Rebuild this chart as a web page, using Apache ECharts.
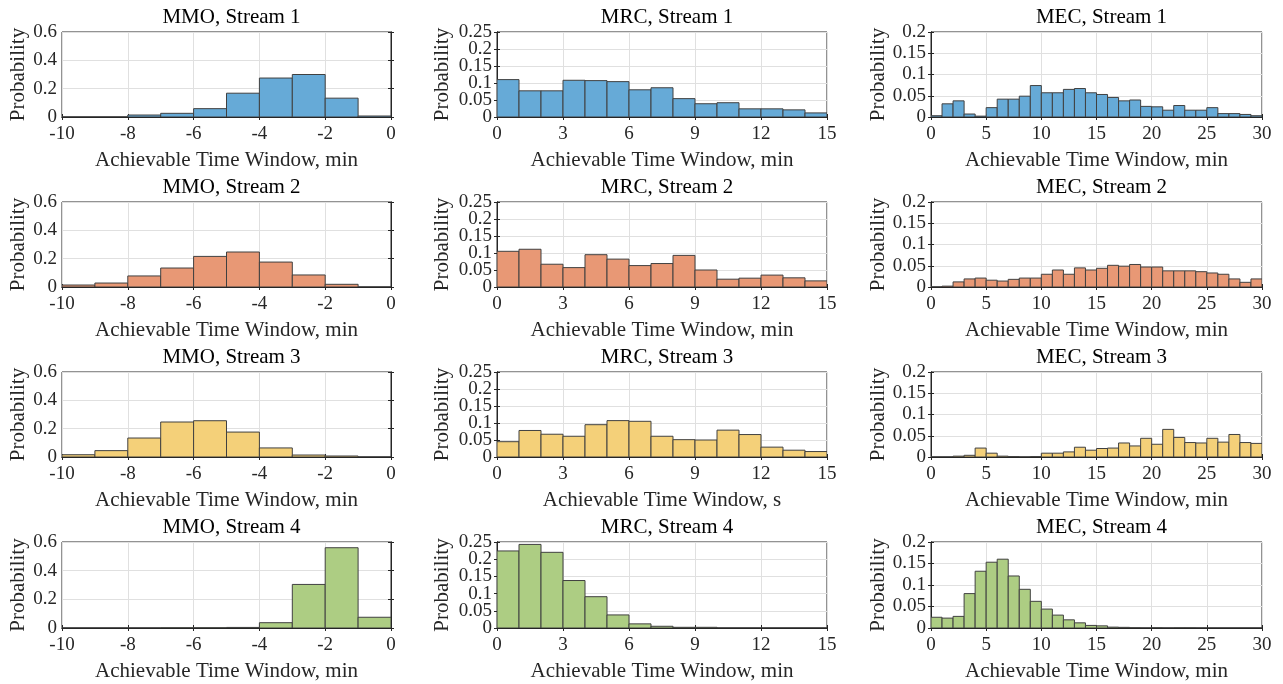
<!DOCTYPE html>
<html><head><meta charset="utf-8">
<script src="https://cdn.jsdelivr.net/npm/echarts@6/dist/echarts.min.js"></script>
<style>html,body{margin:0;padding:0;background:#fff}#c{width:1283px;height:684px}</style>
</head><body><div id="c"></div>
<script>
// ---- categories / labels ----
const methods = ['MMO', 'MRC', 'MEC'];
const streams = ['Stream 1', 'Stream 2', 'Stream 3', 'Stream 4'];
const xNames = [
  ['Achievable Time Window, min', 'Achievable Time Window, min', 'Achievable Time Window, min'],
  ['Achievable Time Window, min', 'Achievable Time Window, min', 'Achievable Time Window, min'],
  ['Achievable Time Window, min', 'Achievable Time Window, s', 'Achievable Time Window, min'],
  ['Achievable Time Window, min', 'Achievable Time Window, min', 'Achievable Time Window, min']
];
const yName = 'Probability';

// ---- tick labels ----
const mmoXTicks = [-10, -8, -6, -4, -2, 0];
const mrcXTicks = [0, 3, 6, 9, 12, 15];
const mecXTicks = [0, 5, 10, 15, 20, 25, 30];
const mmoYTicks = [0, 0.2, 0.4, 0.6];
const mrcYTicks = [0, 0.05, 0.1, 0.15, 0.2, 0.25];
const mecYTicks = [0, 0.05, 0.1, 0.15, 0.2];

// ---- bin left edges (bin width 1) ----
const mmoBinStarts = [-10, -9, -8, -7, -6, -5, -4, -3, -2, -1];
const mrcBinStarts = [0, 1, 2, 3, 4, 5, 6, 7, 8, 9, 10, 11, 12, 13, 14];
const mecBinStarts = [0, 1, 2, 3, 4, 5, 6, 7, 8, 9, 10, 11, 12, 13, 14, 15, 16, 17, 18, 19, 20, 21, 22, 23, 24, 25, 26, 27, 28, 29];

// ---- probabilities ----
const mmoStream1 = [0, 0, 0.014, 0.026, 0.059, 0.168, 0.275, 0.300, 0.133, 0.007];
const mmoStream2 = [0.014, 0.028, 0.078, 0.134, 0.216, 0.247, 0.176, 0.085, 0.019, 0];
const mmoStream3 = [0.016, 0.045, 0.134, 0.247, 0.256, 0.176, 0.064, 0.014, 0.007, 0];
const mmoStream4 = [0, 0, 0, 0.001, 0.001, 0.004, 0.037, 0.304, 0.560, 0.075];

const mrcStream1 = [0.110, 0.077, 0.077, 0.108, 0.107, 0.104, 0.080, 0.086, 0.054, 0.039, 0.042, 0.024, 0.024, 0.021, 0.012];
const mrcStream2 = [0.105, 0.111, 0.067, 0.057, 0.095, 0.082, 0.063, 0.069, 0.093, 0.050, 0.023, 0.026, 0.035, 0.027, 0.018];
const mrcStream3 = [0.045, 0.078, 0.067, 0.061, 0.095, 0.107, 0.105, 0.061, 0.051, 0.050, 0.079, 0.066, 0.029, 0.020, 0.016];
const mrcStream4 = [0.224, 0.243, 0.220, 0.138, 0.091, 0.038, 0.012, 0.005, 0.002, 0.002, 0, 0, 0, 0, 0];

const mecStream1 = [0.003, 0.031, 0.038, 0.007, 0.002, 0.022, 0.042, 0.042, 0.049, 0.074, 0.057, 0.057, 0.065, 0.067, 0.057,
                    0.053, 0.046, 0.038, 0.040, 0.025, 0.024, 0.016, 0.027, 0.016, 0.016, 0.022, 0.008, 0.008, 0.006, 0.003];
const mecStream2 = [0, 0.002, 0.012, 0.019, 0.021, 0.016, 0.014, 0.018, 0.021, 0.021, 0.030, 0.040, 0.030, 0.045, 0.040,
                    0.044, 0.051, 0.049, 0.053, 0.047, 0.047, 0.038, 0.038, 0.038, 0.036, 0.033, 0.030, 0.019, 0.011, 0.019];
const mecStream3 = [0, 0, 0.002, 0.004, 0.021, 0.009, 0.002, 0.001, 0, 0.001, 0.009, 0.009, 0.012, 0.023, 0.016,
                    0.020, 0.021, 0.033, 0.026, 0.044, 0.030, 0.065, 0.046, 0.034, 0.033, 0.044, 0.035, 0.053, 0.034, 0.032];
const mecStream4 = [0.025, 0.023, 0.027, 0.080, 0.132, 0.153, 0.160, 0.121, 0.090, 0.062, 0.044, 0.030, 0.019, 0.012, 0.006,
                    0.005, 0.002, 0.0015, 0.0005, 0, 0.0005, 0, 0.0003, 0.0003, 0, 0, 0, 0, 0, 0];

const streamColors = ['#66AAD7', '#E89875', '#F4D079', '#ADCD83'];

// ---- assemble ----
const panelData = [
  [mmoStream1, mrcStream1, mecStream1],
  [mmoStream2, mrcStream2, mecStream2],
  [mmoStream3, mrcStream3, mecStream3],
  [mmoStream4, mrcStream4, mecStream4]
];
const binStarts = [mmoBinStarts, mrcBinStarts, mecBinStarts];
const xTicks = [mmoXTicks, mrcXTicks, mecXTicks];
const yTicks = [mmoYTicks, mrcYTicks, mecYTicks];

const colLeft = [62, 497, 931];
const colWidth = [329, 330, 331];
const rowTop = [32, 202, 372, 542];
const rowHeight = [85, 85, 85, 86];
const yNameGap = [33, 44, 42];

const FONT = '"Liberation Serif", "Times New Roman", serif';
const AX = '#262626';

const grids = [], xAxes = [], yAxes = [], series = [], titles = [];
function fmt(v) { return String(+v.toFixed(3)); }

for (let r = 0; r < 4; r++) {
  for (let c = 0; c < 3; c++) {
    const g = grids.length;
    grids.push({ left: colLeft[c], top: rowTop[r], width: colWidth[c], height: rowHeight[r],
      show: true, borderColor: AX, borderWidth: 1, backgroundColor: '#fff' });
    titles.push({ text: methods[c] + ', ' + streams[r], left: colLeft[c] + colWidth[c] / 2, top: rowTop[r] - 30,
      textAlign: 'center', textStyle: { fontFamily: FONT, fontSize: 21, fontWeight: 'normal', color: '#000' } });
    const xt = xTicks[c], yt = yTicks[c];
    const yStep = yt[1] - yt[0];
    const xBase = { type: 'value', gridIndex: g, min: xt[0], max: xt[xt.length - 1], interval: xt[1] - xt[0] };
    const yBase = { type: 'value', gridIndex: g, min: yt[0], max: yt[yt.length - 1], interval: yStep };
    xAxes.push(Object.assign({}, xBase, {
      position: 'bottom', name: xNames[r][c], nameLocation: 'middle', nameGap: 33, nameMoveOverlap: false,
      nameTextStyle: { fontFamily: FONT, fontSize: 21, color: AX },
      axisLine: { show: true, lineStyle: { color: AX, width: 1 } },
      axisTick: { show: true, inside: true, length: 3, lineStyle: { color: AX } },
      axisLabel: { fontFamily: FONT, fontSize: 19, color: AX, margin: 8, formatter: fmt,
        showMinLabel: true, showMaxLabel: true, hideOverlap: false },
      splitLine: { show: true, lineStyle: { color: '#E0E0E0', width: 1 } }
    }));
    xAxes.push(Object.assign({}, xBase, {
      position: 'top', axisLine: { show: true, lineStyle: { color: AX } },
      axisTick: { show: true, inside: true, length: 3, lineStyle: { color: AX } },
      axisLabel: { show: false }, splitLine: { show: false }
    }));
    // tick labels split over two coincident left axes (even / odd ticks) so none gets dropped
    const evenFmt = v => (Math.round((v - yt[0]) / yStep) % 2 === 0 ? fmt(v) : '');
    const oddFmt = v => (Math.round((v - yt[0]) / yStep) % 2 === 1 ? fmt(v) : '');
    yAxes.push(Object.assign({}, yBase, {
      position: 'left', name: yName, nameLocation: 'middle', nameGap: yNameGap[c], nameRotate: 90,
      nameMoveOverlap: false,
      nameTextStyle: { fontFamily: FONT, fontSize: 21, color: AX },
      axisLine: { show: true, lineStyle: { color: AX, width: 1 } },
      axisTick: { show: true, inside: true, length: 3, lineStyle: { color: AX } },
      axisLabel: { fontFamily: FONT, fontSize: 19, color: AX, margin: 5, formatter: evenFmt,
        showMinLabel: true, showMaxLabel: true, hideOverlap: false },
      splitLine: { show: true, lineStyle: { color: '#E0E0E0', width: 1 } }
    }));
    yAxes.push(Object.assign({}, yBase, {
      position: 'right', axisLine: { show: true, lineStyle: { color: AX } },
      axisTick: { show: true, inside: true, length: 3, lineStyle: { color: AX } },
      axisLabel: { show: false }, splitLine: { show: false }
    }));
    yAxes.push(Object.assign({}, yBase, {
      position: 'left', offset: 0,
      axisLine: { show: false }, axisTick: { show: false }, splitLine: { show: false },
      axisLabel: { fontFamily: FONT, fontSize: 19, color: AX, margin: 5, formatter: oddFmt,
        showMinLabel: true, showMaxLabel: true, hideOverlap: false }
    }));
    const starts = binStarts[c];
    const vals = panelData[r][c];
    const color = streamColors[r];
    series.push({
      type: 'custom', xAxisIndex: 2 * g, yAxisIndex: 3 * g, clip: true,
      encode: { x: [0, 1], y: 2 },
      data: starts.map((s, i) => [s, s + 1, vals[i]]),
      renderItem: function (params, api) {
        const p0 = api.coord([api.value(0), api.value(2)]);
        const p1 = api.coord([api.value(1), 0]);
        return { type: 'rect',
          shape: { x: p0[0], y: p0[1], width: p1[0] - p0[0], height: p1[1] - p0[1] },
          style: { fill: color, stroke: '#404040', lineWidth: 1 } };
      }
    });
  }
}

const chart = echarts.init(document.getElementById('c'), null, { renderer: 'canvas' });
chart.setOption({
  backgroundColor: '#fff',
  animation: false,
  title: titles,
  grid: grids,
  xAxis: xAxes,
  yAxis: yAxes,
  series: series
});
</script>
</body></html>
